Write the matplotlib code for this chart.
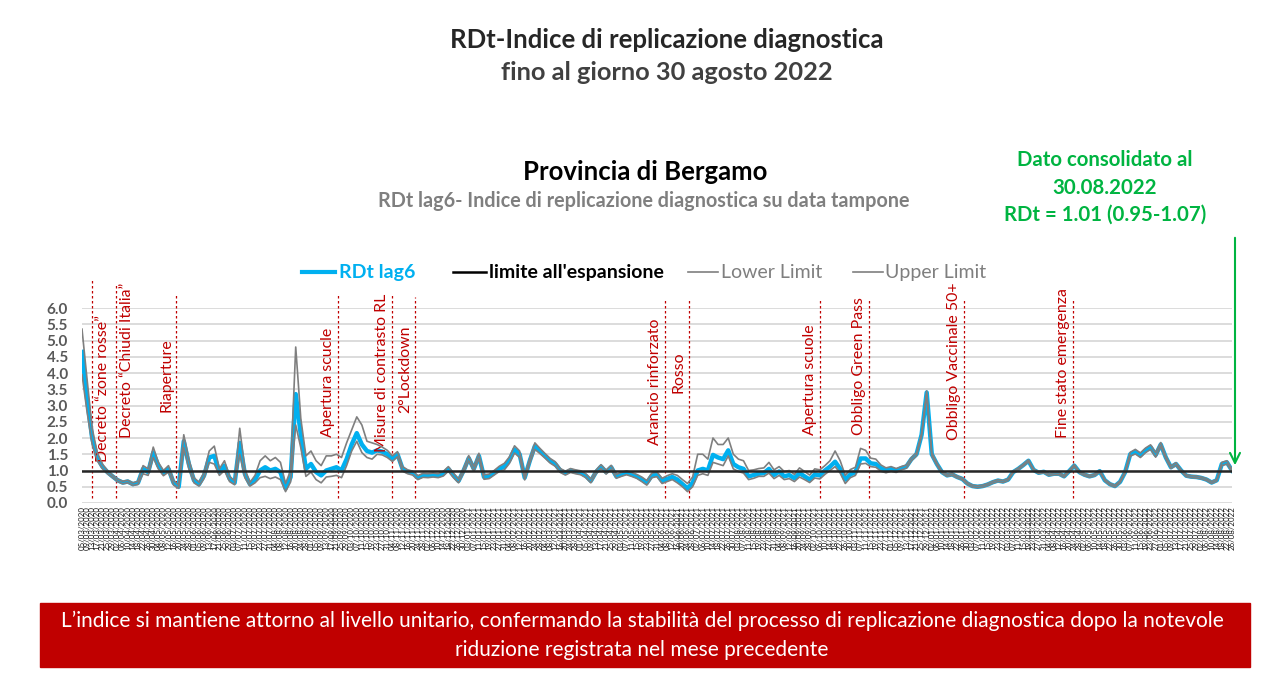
import matplotlib
matplotlib.use('Agg')
import matplotlib.pyplot as plt
from matplotlib.lines import Line2D
from matplotlib.patches import Rectangle
import pandas as pd

plt.rcParams['font.family'] = ['Lato', 'DejaVu Sans']

# RDt lag6, valori letti ogni 4 giorni a partire dal 05/03/2020
rdt = [
    4.65, 3.20, 2.00, 1.40, 1.12, 0.95, 0.82, 0.70, 0.63, 0.66,
    0.58, 0.62, 1.05, 0.95, 1.55, 1.15, 0.92, 1.05, 0.62, 0.50,
    1.90, 1.20, 0.70, 0.58, 0.85, 1.40, 1.45, 0.95, 1.15, 0.75,
    0.62, 1.85, 0.90, 0.58, 0.72, 1.00, 1.10, 1.00, 1.05, 0.95,
    0.45, 0.80, 3.35, 2.10, 1.05, 1.20, 0.95, 0.85, 1.00, 1.05,
    1.10, 1.00, 1.35, 1.80, 2.15, 1.80, 1.60, 1.55, 1.62, 1.58,
    1.50, 1.35, 1.50, 1.05, 0.96, 0.92, 0.78, 0.85, 0.84, 0.86,
    0.84, 0.90, 1.05, 0.85, 0.68, 1.00, 1.38, 1.05, 1.45, 0.80,
    0.82, 0.93, 1.05, 1.12, 1.32, 1.65, 1.50, 0.78, 1.30, 1.75,
    1.60, 1.45, 1.30, 1.20, 1.00, 0.92, 1.00, 0.96, 0.93, 0.84,
    0.68, 0.95, 1.12, 0.95, 1.10, 0.82, 0.88, 0.93, 0.88, 0.82,
    0.73, 0.62, 0.85, 0.88, 0.68, 0.74, 0.80, 0.72, 0.58, 0.45,
    0.62, 1.00, 1.05, 1.00, 1.48, 1.40, 1.35, 1.62, 1.20, 1.10,
    1.05, 0.82, 0.86, 0.90, 0.92, 1.05, 0.86, 0.97, 0.82, 0.86,
    0.76, 0.92, 0.82, 0.72, 0.88, 0.85, 1.00, 1.12, 1.27, 1.05,
    0.72, 0.88, 0.95, 1.37, 1.37, 1.22, 1.20, 1.07, 1.00, 1.05,
    1.00, 1.07, 1.12, 1.35, 1.50, 2.10, 3.40, 1.50, 1.20, 0.95,
    0.85, 0.88, 0.80, 0.74, 0.60, 0.52, 0.50, 0.52, 0.57, 0.64,
    0.69, 0.66, 0.72, 0.95, 1.05, 1.17, 1.30, 1.02, 0.93, 0.96,
    0.87, 0.90, 0.90, 0.82, 0.98, 1.15, 0.95, 0.87, 0.82, 0.86,
    0.98, 0.70, 0.58, 0.52, 0.65, 0.95, 1.50, 1.58, 1.47, 1.62,
    1.72, 1.48, 1.80, 1.40, 1.10, 1.20, 1.00, 0.84, 0.81, 0.80,
    0.77, 0.72, 0.63, 0.70, 1.20, 1.25, 1.00,
]

upper = [
    5.35, 3.80, 2.30, 1.55, 1.20, 1.00, 0.86, 0.74, 0.67, 0.70,
    0.62, 0.67, 1.15, 1.05, 1.72, 1.25, 1.00, 1.15, 0.70, 0.55,
    2.10, 1.35, 0.78, 0.64, 0.95, 1.60, 1.75, 1.05, 1.30, 0.82,
    0.68, 2.30, 1.05, 0.63, 0.85, 1.30, 1.45, 1.30, 1.40, 1.25,
    0.60, 1.00, 4.80, 2.60, 1.45, 1.60, 1.30, 1.15, 1.45, 1.45,
    1.50, 1.40, 1.85, 2.25, 2.65, 2.40, 1.90, 1.85, 1.80, 1.72,
    1.62, 1.45, 1.58, 1.12, 1.02, 0.98, 0.84, 0.91, 0.90, 0.92,
    0.90, 0.97, 1.12, 0.92, 0.74, 1.07, 1.46, 1.12, 1.53, 0.87,
    0.89, 1.00, 1.13, 1.22, 1.42, 1.76, 1.60, 0.85, 1.38, 1.85,
    1.68, 1.52, 1.37, 1.27, 1.06, 0.98, 1.06, 1.02, 0.99, 0.90,
    0.74, 1.01, 1.18, 1.01, 1.16, 0.88, 0.94, 0.99, 0.94, 0.88,
    0.80, 0.69, 0.92, 0.95, 0.76, 0.84, 0.90, 0.85, 0.72, 0.60,
    0.80, 1.50, 1.50, 1.35, 2.00, 1.80, 1.80, 2.00, 1.50, 1.35,
    1.30, 1.00, 1.02, 1.06, 1.08, 1.25, 1.02, 1.12, 0.97, 1.00,
    0.88, 1.08, 0.97, 0.86, 1.05, 1.02, 1.15, 1.30, 1.60, 1.30,
    0.85, 1.03, 1.10, 1.68, 1.62, 1.38, 1.35, 1.17, 1.08, 1.12,
    1.06, 1.12, 1.17, 1.40, 1.55, 2.15, 3.45, 1.55, 1.24, 0.98,
    0.88, 0.91, 0.83, 0.77, 0.63, 0.55, 0.53, 0.55, 0.60, 0.67,
    0.72, 0.69, 0.75, 0.98, 1.08, 1.20, 1.33, 1.05, 0.96, 0.99,
    0.90, 0.93, 0.93, 0.85, 1.01, 1.18, 0.98, 0.90, 0.85, 0.89,
    1.01, 0.73, 0.61, 0.55, 0.68, 0.99, 1.56, 1.65, 1.54, 1.69,
    1.79, 1.55, 1.86, 1.45, 1.14, 1.24, 1.03, 0.87, 0.84, 0.83,
    0.80, 0.75, 0.66, 0.73, 1.25, 1.30, 1.04,
]

lower = [
    3.95, 2.80, 1.80, 1.30, 1.06, 0.90, 0.78, 0.66, 0.59, 0.62,
    0.54, 0.57, 0.90, 0.85, 1.40, 1.05, 0.84, 0.95, 0.55, 0.45,
    1.70, 1.05, 0.62, 0.52, 0.76, 1.25, 1.20, 0.85, 1.00, 0.66,
    0.56, 1.50, 0.78, 0.52, 0.62, 0.78, 0.82, 0.75, 0.80, 0.72,
    0.35, 0.65, 2.40, 1.70, 0.82, 0.95, 0.72, 0.62, 0.80, 0.82,
    0.85, 0.78, 1.15, 1.60, 1.90, 1.55, 1.40, 1.35, 1.50, 1.48,
    1.40, 1.28, 1.42, 0.98, 0.90, 0.86, 0.72, 0.79, 0.78, 0.80,
    0.78, 0.83, 0.98, 0.78, 0.62, 0.93, 1.30, 0.98, 1.37, 0.73,
    0.75, 0.86, 0.97, 1.02, 1.22, 1.54, 1.40, 0.71, 1.22, 1.65,
    1.52, 1.38, 1.23, 1.13, 0.94, 0.86, 0.94, 0.90, 0.87, 0.78,
    0.62, 0.89, 1.06, 0.89, 1.04, 0.76, 0.82, 0.87, 0.82, 0.76,
    0.66, 0.55, 0.78, 0.81, 0.60, 0.66, 0.72, 0.62, 0.50, 0.35,
    0.50, 0.85, 0.90, 0.85, 1.25, 1.20, 1.15, 1.45, 1.05, 0.97,
    0.92, 0.72, 0.76, 0.82, 0.82, 0.92, 0.75, 0.85, 0.72, 0.75,
    0.66, 0.80, 0.72, 0.63, 0.77, 0.74, 0.88, 1.00, 1.12, 0.92,
    0.60, 0.78, 0.85, 1.20, 1.22, 1.12, 1.10, 0.98, 0.93, 0.98,
    0.94, 1.02, 1.07, 1.30, 1.45, 2.05, 3.35, 1.45, 1.16, 0.92,
    0.82, 0.85, 0.77, 0.71, 0.57, 0.49, 0.47, 0.49, 0.54, 0.61,
    0.66, 0.63, 0.69, 0.92, 1.02, 1.14, 1.27, 0.99, 0.90, 0.93,
    0.84, 0.87, 0.87, 0.79, 0.95, 1.12, 0.92, 0.84, 0.79, 0.83,
    0.95, 0.67, 0.55, 0.49, 0.62, 0.91, 1.44, 1.51, 1.40, 1.55,
    1.65, 1.41, 1.74, 1.35, 1.06, 1.16, 0.97, 0.81, 0.78, 0.77,
    0.74, 0.69, 0.60, 0.67, 1.15, 1.20, 0.96,
]

dates = pd.date_range('2020-03-05', periods=len(rdt), freq='4D')

# eventi: data, etichetta, lato del testo, base del testo (valore y)
event_dates = ['2020-03-13', '2020-04-01', '2020-05-18', '2020-09-22',
               '2020-11-04', '2020-11-22', '2021-06-06', '2021-06-25',
               '2021-10-06', '2021-11-14', '2022-01-27', '2022-04-23']
event_labels = ['Decreto \u201czone rosse\u201d', 'Decreto \u201cChiudi Italia\u201d',
                'Riaperture', 'Apertura scucle', 'Misure di contrasto RL',
                '2\u00b0Lockdown', 'Arancio rinforzato', 'Rosso',
                'Apertura scuole', 'Obbligo Green Pass',
                'Obbligo Vaccinale 50+', 'Fine stato emergenza']
event_side = ['r', 'r', 'l', 'l', 'l', 'l', 'l', 'l', 'l', 'l', 'l', 'l']
event_text_y = [1.26, 2.0, 2.8, 2.03, 1.57, 2.77, 1.78, 3.38, 2.09, 2.09, 1.94, 2.0]
event_top = [6.9, 6.7, 6.45, 6.45, 6.45, 6.35, 6.25, 6.25, 6.3, 6.3, 6.3, 6.3]

CYAN = '#00B0F0'
GREY = '#7F7F7F'
RED = '#C00000'
GREEN = '#00B441'

fig = plt.figure(figsize=(12.8, 6.76), dpi=100)
ax = fig.add_axes([82 / 1280, 173 / 676, 1150 / 1280, 195 / 676])

ax.set_ylim(0, 6)
ax.set_xlim(dates[0], dates[-1])
ax.set_yticks([i * 0.5 for i in range(13)])
ax.set_yticklabels([f'{i * 0.5:.1f}' for i in range(13)], color='#595959',
                   fontsize=11, fontweight='bold')
ax.grid(axis='y', color='#D9D9D9', lw=1.3)
ax.set_axisbelow(True)
for s in ax.spines.values():
    s.set_visible(False)
ax.tick_params(axis='y', length=0, pad=10)
ax.tick_params(axis='x', length=0, pad=2)
ax.set_xticks(dates)
ax.set_xticklabels([d.strftime('%d/%m/%Y') for d in dates], rotation=90,
                   fontsize=5.7, color='#1a1a1a')

ax.plot(dates, rdt, color=CYAN, lw=3.2, zorder=3)
ax.plot(dates, lower, color=GREY, lw=1.2, zorder=4)
ax.plot(dates, upper, color=GREY, lw=1.2, zorder=4)
ax.axhline(1.0, color='#262626', lw=1.8, zorder=5)

for d, lab, side, ty, top in zip(event_dates, event_labels, event_side,
                                 event_text_y, event_top):
    d = pd.Timestamp(d)
    ax.plot([d, d], [0.15, top], color=RED, lw=0.9, ls=(0, (2, 2)),
            clip_on=False, zorder=2)
    dx = 11 if side == 'r' else -10
    ax.annotate(lab, xy=(d, ty), xytext=(dx, 0), textcoords='offset pixels',
                rotation=90, ha='center', va='bottom', color=RED, fontsize=11.4,
                annotation_clip=False)

# titoli
fig.text(667 / 1280, 1 - 40 / 676, 'RDt-Indice di replicazione diagnostica',
         ha='center', va='center', fontsize=18.5, fontweight='bold', color='#262626')
fig.text(667 / 1280, 1 - 72 / 676, 'fino al giorno 30 agosto 2022',
         ha='center', va='center', fontsize=18.3, fontweight='bold', color='#404040')
fig.text(645 / 1280, 1 - 172 / 676, 'Provincia di Bergamo',
         ha='center', va='center', fontsize=18.5, fontweight='bold', color='#000000')
fig.text(644 / 1280, 1 - 201 / 676,
         'RDt lag6- Indice di replicazione diagnostica su data tampone',
         ha='center', va='center', fontsize=14.2, fontweight='bold', color=GREY)

for yy, txt in zip([160, 188, 215], ['Dato consolidato al', '30.08.2022',
                                     'RDt = 1.01 (0.95-1.07)']):
    fig.text(1105 / 1280, 1 - yy / 676, txt, ha='center', va='center',
             fontsize=14.7, fontweight='bold', color=GREEN)

ax.annotate('', xy=(1235 / 1280, 1 - 468 / 676), xycoords='figure fraction',
            xytext=(1235 / 1280, 1 - 235 / 676), textcoords='figure fraction',
            arrowprops=dict(arrowstyle='->', color=GREEN, lw=1.5,
                            mutation_scale=18))

# legenda
ly = 1 - 272 / 676
legend_items = [
    (302, 335, CYAN, 3.0, 339, 'RDt lag6', CYAN, 'bold'),
    (453, 486, '#000000', 1.8, 489, "limite all'espansione", '#000000', 'bold'),
    (688, 718, GREY, 1.2, 721, 'Lower Limit', GREY, 'normal'),
    (853, 883, GREY, 1.2, 885, 'Upper Limit', GREY, 'normal'),
]
for x0, x1, lc, lw, tx, txt, tc, fw in legend_items:
    fig.add_artist(Line2D([x0 / 1280, x1 / 1280], [ly, ly], color=lc, lw=lw,
                          transform=fig.transFigure))
    fig.text(tx / 1280, ly, txt, ha='left', va='center', fontsize=14,
             fontweight=fw, color=tc)

# box conclusivo
fig.add_artist(Rectangle((40 / 1280, 1 - 667 / 676), 1210 / 1280, 64 / 676,
                         transform=fig.transFigure, color=RED, zorder=0))
fig.text(642 / 1280, 1 - 621 / 676,
         "L\u2019indice si mantiene attorno al livello unitario, confermando la stabilit\u00e0 "
         "del processo di replicazione diagnostica dopo la notevole",
         ha='center', va='center', fontsize=15, color='white')
fig.text(642 / 1280, 1 - 650 / 676, 'riduzione registrata nel mese precedente',
         ha='center', va='center', fontsize=15, color='white')

fig.savefig('out.png', dpi=100)
